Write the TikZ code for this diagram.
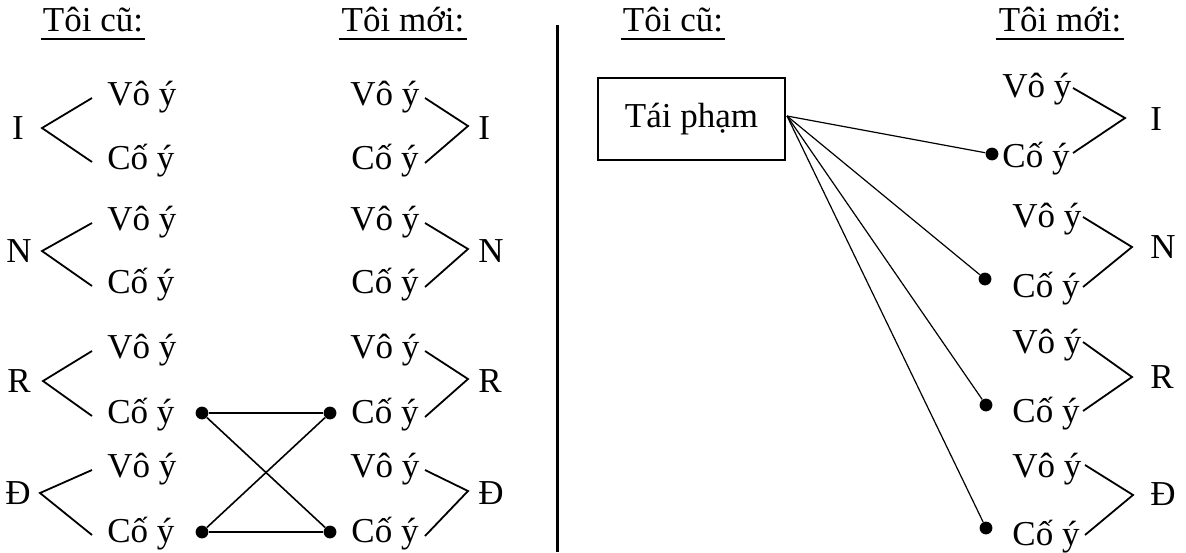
\documentclass[tikz,border=0pt]{standalone}
\usepackage{fontspec}
\setmainfont{Liberation Serif}
\begin{document}
\begin{tikzpicture}[x=0.5pt,y=-0.5pt,
  txt/.style={inner sep=0pt, anchor=base west, font=\fontsize{17.5pt}{21pt}\selectfont},
  ctr/.style={txt, anchor=base},
  arm/.style={line width=0.9pt},
  link/.style={line width=0.8pt},
  rlink/.style={line width=0.6pt},
  dot/.style={circle, fill=black, inner sep=0pt, minimum size=6.4pt},
  uline/.style={line width=0.8pt},
  boxed/.style={draw, line width=0.9pt, inner sep=0pt, minimum width=93.5pt, minimum height=41pt, font=\fontsize{17.5pt}{21pt}\selectfont}]
\useasboundingbox (0,0) rectangle (1186,552);
% divider
\draw[line width=1.5pt] (557,25) coordinate (dtop) -- (557,552) coordinate (dbot);
% headers
\node[ctr] (h1) at (93,31) {Tôi cũ:};
\node[ctr] (h2) at (403,31) {Tôi mới:};
\node[ctr] (h3) at (673,31) {Tôi cũ:};
\node[ctr] (h4) at (1060,31) {Tôi mới:};
\foreach \h in {h1,h2,h3,h4}
  \draw[uline] ([shift={(-2,8)}]\h.base west) -- ([shift={(2,8)}]\h.base east);
% left panel
\foreach \i/\L/\lx/\v/\c/\b/\ax in {1/I/18/105/169/139/42, 2/N/19/230/293/262/42, 3/R/19/358/423/392/43, 4/Đ/18/477/542/504/40}{
  \node[txt] (lv\i) at (107,\v) {Vô ý};
  \node[txt] (lc\i) at (107,\c) {Cố ý};
  \node[ctr] (ll\i) at (\lx,\b) {\L};
  \coordinate (lu\i) at (92,\v-7);
  \coordinate (la\i) at (\ax,\b-11);
  \coordinate (ld\i) at (92,\c-7);
  \draw[arm] (lu\i) -- (la\i) -- (ld\i);
  \node[txt] (mv\i) at (350,\v) {Vô ý};
  \node[txt] (mc\i) at (351,\c) {Cố ý};
  \node[txt] (ml\i) at (478,\b) {\L};
  \coordinate (mu\i) at (425,\v-7);
  \coordinate (ma\i) at (468,\b-13);
  \coordinate (md\i) at (425,\c-6);
  \draw[arm] (mu\i) -- (ma\i) -- (md\i);
}
% crossing links
\node[dot] (p1) at (202,413) {};
\node[dot] (p2) at (330,413) {};
\node[dot] (p3) at (202,532) {};
\node[dot] (p4) at (330,532) {};
\draw[link] (p1) -- (p2);
\draw[link] (p3) -- (p4);
\draw[link] (p1) -- (p4);
\draw[link] (p3) -- (p2);
% right panel
\node[boxed] (box) at (691.5,119) {Tái phạm};
\coordinate (src) at (787,116);
\foreach \i/\L/\v/\c/\b/\tx/\sx/\apx/\uy/\ay/\dy/\dx/\dyy in {
 1/I/97/167/130/1002/1073/1125/88/118/153/992/154,
 2/N/227/297/258/1012/1083/1132/217/247/287/985/279,
 3/R/353/422/388/1012/1083/1132/342/377/411/986/405,
 4/Đ/477/545/505/1012/1085/1133/465/495/535/986/528}{
  \node[txt] (rv\i) at (\tx,\v) {Vô ý};
  \node[txt] (rc\i) at (\tx,\c) {Cố ý};
  \node[txt] (rl\i) at (1150,\b) {\L};
  \coordinate (ru\i) at (\sx,\uy);
  \coordinate (ra\i) at (\apx,\ay);
  \coordinate (rd\i) at (\sx,\dy);
  \draw[arm] (ru\i) -- (ra\i) -- (rd\i);
  \node[dot] (q\i) at (\dx,\dyy) {};
  \draw[rlink] (src) -- (q\i);
}
\end{tikzpicture}
\end{document}
